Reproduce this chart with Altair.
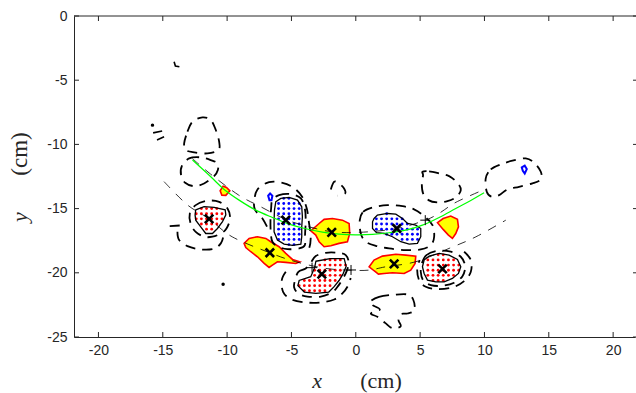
import altair as alt
import numpy as np
import pandas as pd

# ---------------- plot frame ----------------
X_DOMAIN = [-21.9, 21.7]
Y_DOMAIN = [-25, 0]
W, H = 561, 321
x_ticks = [-20, -15, -10, -5, 0, 5, 10, 15, 20]
y_ticks = [0, -5, -10, -15, -20, -25]

# ---------------- yellow regions (red outline) ----------------
yellow_1 = [(-8.68, -17.71), (-8.29, -17.32), (-7.64, -17.19), (-6.99, -17.32), (-6.61, -17.58),
            (-5.96, -17.97), (-5.44, -18.49), (-4.92, -18.96), (-4.35, -19.14), (-4.66, -19.27),
            (-5.44, -19.19), (-6.09, -19.14), (-6.48, -19.40), (-6.74, -19.58), (-7.12, -19.27),
            (-7.64, -18.75), (-8.16, -18.36), (-8.55, -18.03)]
yellow_2 = [(-3.50, -16.73), (-2.85, -16.16), (-2.46, -15.84), (-1.81, -15.77), (-1.04, -15.90),
            (-0.52, -16.16), (-0.47, -16.94), (-0.65, -17.58), (-1.30, -17.71), (-1.94, -17.90),
            (-2.46, -17.97), (-2.85, -17.58), (-3.11, -17.06)]
yellow_3 = [(1.04, -19.53), (1.42, -19.01), (2.07, -18.70), (3.11, -18.55), (3.89, -18.62),
            (4.66, -18.70), (4.61, -19.27), (4.27, -19.79), (3.76, -20.05), (2.85, -20.00),
            (2.20, -20.05), (1.76, -20.10), (1.42, -19.84)]
yellow_4 = [(6.35, -16.10), (6.79, -15.77), (7.38, -15.58), (7.90, -15.84), (7.98, -16.42),
            (7.77, -16.94), (7.51, -17.32), (7.20, -17.06), (6.79, -16.62)]
yellow_5 = [(-10.54, -13.61), (-10.31, -13.25), (-10.05, -13.35), (-9.79, -13.61),
            (-10.10, -13.97), (-10.41, -13.95)]

# ---------------- red-dotted regions ----------------
red_a = [(-12.44, -15.10), (-11.79, -14.85), (-11.01, -14.90), (-10.15, -15.10), (-10.10, -15.49),
         (-10.36, -16.01), (-10.75, -16.55), (-11.14, -16.94), (-11.66, -16.94), (-12.05, -16.42),
         (-12.44, -15.90), (-12.49, -15.49)]
red_b = [(-3.1, -19.1), (-2.0, -18.9), (-0.9, -18.9), (-0.75, -19.5), (-1.0, -20.1), (-1.3, -20.6),
         (-1.7, -21.1), (-2.1, -21.5), (-3.1, -21.6), (-4.0, -21.5), (-4.5, -21.0), (-4.4, -20.6),
         (-3.5, -20.3), (-3.2, -19.6)]
red_c = [(5.31, -19.01), (5.70, -18.70), (6.48, -18.49), (7.25, -18.62), (7.90, -18.96),
         (8.16, -19.53), (7.98, -20.05), (7.51, -20.44), (6.87, -20.70), (6.22, -20.70),
         (5.57, -20.57), (5.31, -20.05), (5.18, -19.53)]

# ---------------- blue-dotted regions ----------------
blue_d = [(-6.22, -14.47), (-5.83, -14.21), (-5.18, -14.13), (-4.53, -14.34), (-4.20, -14.86),
          (-4.15, -15.64), (-4.20, -16.42), (-4.20, -17.19), (-4.27, -17.77), (-4.92, -17.87),
          (-5.57, -17.77), (-6.09, -17.45), (-6.35, -16.81), (-6.35, -15.90), (-6.32, -15.12)]
blue_e = [(1.42, -15.77), (1.68, -15.51), (2.46, -15.38), (3.11, -15.43), (3.63, -15.77),
          (4.02, -16.16), (4.66, -16.29), (5.05, -16.55), (5.05, -17.19), (4.79, -17.71),
          (4.15, -17.77), (3.50, -17.58), (2.85, -17.19), (2.20, -16.94), (1.61, -16.88),
          (1.30, -16.55), (1.30, -16.03)]
blue_f = [(-6.81, -14.0), (-6.66, -13.82), (-6.48, -14.0), (-6.55, -14.34), (-6.71, -14.34)]
blue_g = [(12.90, -11.79), (13.13, -11.66), (13.29, -11.92), (13.13, -12.26), (12.98, -12.05)]

# ---------------- dashed contours (closed) ----------------
loop_a = [(-12.90, -15.38), (-12.44, -14.73), (-11.53, -14.39), (-10.62, -14.47), (-9.97, -14.99),
          (-9.77, -15.77), (-10.05, -16.55), (-10.49, -16.94), (-11.14, -17.19), (-11.79, -17.19),
          (-12.44, -16.81), (-12.82, -16.21)]
loop_d = [(-6.48, -14.34), (-5.96, -13.95), (-5.05, -13.87), (-4.27, -14.21), (-3.96, -14.99),
          (-3.89, -15.90), (-3.94, -16.94), (-3.96, -17.84), (-4.40, -18.10), (-5.31, -18.16),
          (-6.01, -17.97), (-6.48, -17.58), (-6.61, -16.81), (-6.63, -15.77), (-6.58, -14.99)]
loop_e = [(0.31, -15.90), (0.57, -15.25), (1.30, -14.91), (2.46, -14.73), (3.63, -14.81),
          (4.53, -15.06), (5.31, -15.58), (5.96, -16.29), (6.09, -17.19), (5.83, -17.84),
          (5.05, -18.18), (3.89, -18.23), (2.59, -18.10), (1.55, -17.90), (0.78, -17.58),
          (0.39, -16.94)]
loop_b = [(-4.72, -20.57), (-4.46, -19.92), (-3.89, -19.66), (-3.50, -19.22), (-3.11, -18.70),
          (-2.33, -18.44), (-1.42, -18.44), (-0.78, -18.62), (-0.55, -19.2), (-0.7, -19.85),
          (-1.0, -20.45), (-1.35, -21.0), (-1.81, -21.5), (-2.72, -21.85), (-3.76, -21.85),
          (-4.46, -21.61), (-4.79, -21.14)]
loop_c = [(5.13, -19.27), (5.49, -18.62), (6.35, -18.29), (7.38, -18.36), (8.16, -18.75),
          (8.50, -19.48), (8.29, -20.26), (7.64, -20.78), (6.74, -21.01), (5.83, -20.96),
          (5.23, -20.57), (5.05, -19.92)]
loop_top_1 = [(-13.34, -9.92), (-13.08, -9.01), (-12.69, -8.23), (-11.92, -7.90), (-11.27, -8.10),
              (-10.88, -8.88), (-10.62, -9.79), (-10.67, -10.44), (-11.53, -10.70), (-12.56, -10.62),
              (-13.21, -10.44)]
loop_top_2 = [(-13.52, -11.69), (-12.95, -11.09), (-12.05, -11.01), (-11.27, -11.22), (-10.75, -11.48),
              (-10.72, -12.0), (-11.01, -12.47), (-11.79, -13.04), (-12.56, -13.25), (-13.26, -12.99),
              (-13.58, -12.39)]
loop_bottom = [(1.09, -22.26), (1.81, -21.87), (2.98, -21.71), (4.02, -21.69), (4.46, -22.08),
               (4.56, -22.91), (4.02, -23.17), (3.50, -23.22), (3.32, -23.69), (3.50, -24.16),
               (2.85, -24.31), (2.28, -23.90), (1.68, -23.43), (1.17, -23.17), (1.87, -22.86),
               (1.30, -22.52)]
loop_right_1 = [(5.18, -12.13), (5.70, -12.10), (6.48, -12.26), (7.25, -12.47), (7.90, -12.99),
                (8.16, -13.56), (7.77, -14.13), (7.12, -14.42), (6.35, -14.52), (5.65, -14.34),
                (5.23, -13.82), (5.13, -13.04), (5.23, -12.39)]
loop_right_2 = [(10.10, -12.65), (10.49, -11.95), (11.27, -11.56), (12.18, -11.27), (13.21, -11.09),
                (13.86, -11.43), (14.38, -12.13), (14.38, -12.73), (13.73, -13.04), (12.69, -13.30),
                (11.79, -13.51), (11.14, -13.95), (10.57, -14.08), (10.18, -13.69)]

# ---------------- dashed contours (open pieces) ----------------
arc_a_1 = [(-14.46, -16.36), (-13.60, -16.31)]
arc_a_2 = [(-13.86, -16.81), (-13.73, -17.45), (-13.08, -17.92), (-12.05, -18.18), (-11.01, -18.13),
           (-10.49, -17.71), (-10.3, -17.2)]
arc_d = [(-6.9, -16.4), (-7.31, -15.69), (-7.82, -15.12), (-7.90, -14.47), (-7.64, -13.51),
         (-6.74, -12.94), (-5.70, -12.99), (-4.87, -13.35), (-4.20, -14.03), (-3.81, -14.99),
         (-3.63, -16.16), (-3.50, -17.19), (-3.63, -18.10), (-4.0, -18.4)]
arc_b = [(-5.44, -19.92), (-5.75, -20.57), (-5.65, -21.48), (-5.05, -22.05), (-3.89, -22.31),
         (-2.72, -22.31), (-1.68, -22.08), (-1.04, -21.61), (-0.6, -21.0), (-0.4, -20.4)]
arc_c = [(8.42, -18.36), (8.94, -19.01), (8.94, -19.92), (8.42, -20.65), (7.51, -21.14),
         (6.35, -21.27), (5.44, -21.09), (4.92, -20.57), (4.77, -19.66), (4.97, -19.01)]
arc_mid = [(-1.94, -13.51), (-1.68, -12.91), (-1.30, -13.04), (-0.91, -13.43), (-0.83, -13.82),
           (-1.42, -14.0)]

# short solid fragments
frag_1 = [(-15.75, -9.1), (-15.05, -8.95)]
frag_2 = [(-15.45, -9.65), (-14.9, -9.4)]
frag_3 = [(-14.12, -3.56), (-14.02, -3.89), (-13.71, -3.95)]
dot_x = [-10.31, -15.8]
dot_y = [-20.9, -8.5]

# ---------------- fitted curves ----------------
green_x = [-12.69, -11.27, -10.23, -9.07, -7.77, -6.48, -5.18, -3.89, -2.59, -1.30, 0.00,
           1.30, 2.59, 3.89, 5.18, 6.48, 7.77, 9.07, 9.97]
green_y = [-11.22, -12.52, -13.51, -14.34, -15.12, -15.69, -16.21, -16.57, -16.83, -16.99, -17.04,
           -17.01, -16.88, -16.68, -16.29, -15.69, -14.99, -14.29, -13.77]
upper_x = [-12.7, -11.3, -9.1, -7.4, -5.44, -3.7, -1.87, 0.3, 3.19, 5.4, 6.5, 7.8, 9.9]
upper_y = [-11.1, -12.3, -13.95, -14.85, -15.85, -16.4, -16.8, -16.85, -16.55, -15.9, -15.35, -14.5, -13.55]
lower_x = [-14.9, -13.1, -11.4, -9.6, -6.68, -4.66, -2.33, -0.37, 1.04, 2.33, 4.66, 7.25, 9.33, 11.66]
lower_y = [-12.9, -14.7, -15.8, -17.2, -18.44, -19.14, -19.66, -19.8, -19.79, -19.53, -19.14, -18.1, -17.2, -15.9]

# ---------------- markers ----------------
peak_x = [-11.4, -5.44, -6.68, -2.64, -1.87, 3.19, 2.98, 6.74]
peak_y = [-15.8, -15.9, -18.44, -20.1, -16.85, -16.55, -19.3, -19.7]
plus_x = [-0.37, 5.4, -3.4]
plus_y = [-19.78, -15.9, -19.6]


def shapes_frame(named):
    rows = []
    for name, pts in named.items():
        for i, (x, y) in enumerate(pts):
            rows.append({"name": name, "i": i, "x": x, "y": y})
    return pd.DataFrame(rows)


def inside(px, py, poly):
    xs = np.array([p[0] for p in poly])
    ys = np.array([p[1] for p in poly])
    res = np.zeros(px.shape, dtype=bool)
    j = len(poly) - 1
    for i in range(len(poly)):
        cross = (ys[i] > py) != (ys[j] > py)
        xint = (xs[j] - xs[i]) * (py - ys[i]) / (ys[j] - ys[i] + 1e-12) + xs[i]
        res ^= cross & (px < xint)
        j = i
    return res


# dotted hatch fill for the red / blue regions
step = 0.4
gx, gy = np.meshgrid(np.arange(-22, 22, step), np.arange(-25, 0, step))
gx, gy = gx.ravel(), gy.ravel()
dot_rows = []
for poly, col in [(red_a, "red"), (red_b, "red"), (red_c, "red"), (blue_d, "blue"), (blue_e, "blue")]:
    m = inside(gx, gy, poly)
    for a, b in zip(gx[m], gy[m]):
        dot_rows.append({"x": a, "y": b, "c": col})
dots = pd.DataFrame(dot_rows)

INK = "#262626"
xs = alt.Scale(domain=X_DOMAIN, nice=False, zero=False)
ys = alt.Scale(domain=Y_DOMAIN, nice=False, zero=False)
AXX = alt.Axis(values=x_ticks, ticks=False, grid=False, domain=True, domainColor=INK,
               domainWidth=1, labelFont="Liberation Sans", labelFontSize=14,
               labelColor=INK, labelPadding=6, labelExpr="'' + datum.value")
AXY = alt.Axis(values=y_ticks, ticks=False, grid=False, domain=True, domainColor=INK,
               domainWidth=1, labelFont="Liberation Sans", labelFontSize=14,
               labelColor=INK, labelPadding=7, labelExpr="'' + datum.value")
X = alt.X("x:Q", scale=xs, axis=AXX, title=None)
Y = alt.Y("y:Q", scale=ys, axis=AXY, title=None)
XV = alt.X("v:Q", scale=xs, axis=AXX, title=None)
YV = alt.Y("v:Q", scale=ys, axis=AXY, title=None)


def lines(df, **mark):
    return alt.Chart(df).mark_line(**mark).encode(
        x=X, y=Y, detail="name:N", order=alt.Order("i:Q"))


yellow = lines(shapes_frame({"y1": yellow_1, "y2": yellow_2, "y3": yellow_3, "y4": yellow_4,
                             "y5": yellow_5}),
               interpolate="linear-closed", fill="#ffff00", stroke="#ff0000", strokeWidth=1.6)

dot_layer = alt.Chart(dots).mark_circle(size=8, opacity=1).encode(
    x=X, y=Y,
    color=alt.Color("c:N", scale=alt.Scale(domain=["red", "blue"], range=["#ff0000", "#0000ff"]),
                    legend=None))

outline = lines(shapes_frame({"a": red_a, "b": red_b, "c": red_c, "d": blue_d, "e": blue_e}),
                interpolate="linear-closed", stroke="black", strokeWidth=1.3)
small_blue = lines(shapes_frame({"f": blue_f, "g": blue_g}),
                   interpolate="linear-closed", stroke="#0000ff", strokeWidth=2)

closed_loops = lines(shapes_frame({
    "la": loop_a, "ld": loop_d, "le": loop_e, "lb": loop_b, "lc": loop_c,
    "t1": loop_top_1, "t2": loop_top_2, "bt": loop_bottom, "r1": loop_right_1, "r2": loop_right_2}),
    interpolate="cardinal-closed", stroke="black", strokeWidth=1.8, strokeDash=[10, 7])
open_loops = lines(shapes_frame({
    "a1": arc_a_1, "a2": arc_a_2, "d": arc_d, "b": arc_b, "c": arc_c, "m": arc_mid}),
    interpolate="cardinal", stroke="black", strokeWidth=1.8, strokeDash=[10, 7])
fragments = lines(shapes_frame({"f1": frag_1, "f2": frag_2, "f3": frag_3}),
                  stroke="black", strokeWidth=1.6)
small_dots = alt.Chart(pd.DataFrame({"x": dot_x, "y": dot_y})).mark_circle(
    size=12, color="black", opacity=1).encode(x=X, y=Y)

fits = shapes_frame({
    "upper": list(zip(upper_x, upper_y)),
    "lower": list(zip(lower_x, lower_y))})
fit_lines = lines(fits, interpolate="cardinal", stroke="black", strokeWidth=0.8, strokeDash=[9, 8])
green = lines(shapes_frame({"g": list(zip(green_x, green_y))}),
              interpolate="cardinal", stroke="#00ff00", strokeWidth=1.2)

plus = alt.Chart(pd.DataFrame({"x": plus_x, "y": plus_y})).mark_point(
    shape="M-1,0L1,0M0,-1L0,1", size=100, stroke="black", strokeWidth=1, filled=False,
    opacity=1).encode(x=X, y=Y)
peaks = alt.Chart(pd.DataFrame({"x": peak_x, "y": peak_y})).mark_point(
    shape="M-1,-1L1,1M-1,1L1,-1", size=72, stroke="black", strokeWidth=2.6, filled=False,
    opacity=1).encode(x=X, y=Y)

# box: top edge plus inward ticks on every side
one = pd.DataFrame({"a": [0]})
top_edge = alt.Chart(one).mark_rule(color=INK, strokeWidth=1).encode(
    x=alt.value(0), x2=alt.value(W + 1), y=alt.value(0))
xt = pd.DataFrame({"v": x_ticks})
yt = pd.DataFrame({"v": y_ticks})
tick_style = dict(color=INK, strokeWidth=1)
ticks_bottom = alt.Chart(xt).mark_rule(**tick_style).encode(
    x=XV, y=alt.value(H), y2=alt.value(H - 5))
ticks_top = alt.Chart(xt).mark_rule(**tick_style).encode(
    x=XV, y=alt.value(0), y2=alt.value(5))
ticks_left = alt.Chart(yt).mark_rule(**tick_style).encode(
    y=YV, x=alt.value(0), x2=alt.value(5))
ticks_right = alt.Chart(yt).mark_rule(**tick_style).encode(
    y=YV, x=alt.value(W - 2), x2=alt.value(W + 1))

# axis titles: italic variable name, upright unit
serif = "Liberation Serif"
x_name = alt.Chart(pd.DataFrame({"t": ["x"]})).mark_text(
    font=serif, fontSize=22, fontStyle="italic", color=INK, align="center", baseline="alphabetic"
).encode(x=alt.value(243), y=alt.value(372), text="t:N")
x_unit = alt.Chart(pd.DataFrame({"t": ["(cm)"]})).mark_text(
    font=serif, fontSize=22, color=INK, align="center", baseline="alphabetic"
).encode(x=alt.value(307), y=alt.value(372), text="t:N")
y_name = alt.Chart(pd.DataFrame({"t": ["y"]})).mark_text(
    font=serif, fontSize=22, fontStyle="italic", color=INK, align="center", baseline="middle",
    angle=270).encode(x=alt.value(-54), y=alt.value(201), text="t:N")
y_unit = alt.Chart(pd.DataFrame({"t": ["(cm)"]})).mark_text(
    font=serif, fontSize=23, color=INK, align="center", baseline="middle", angle=270
).encode(x=alt.value(-54), y=alt.value(138), text="t:N")

chart = alt.layer(
    yellow, dot_layer, outline, small_blue, closed_loops, open_loops, fragments, small_dots,
    fit_lines, green, plus, peaks,
    top_edge, ticks_bottom, ticks_top, ticks_left, ticks_right,
    x_name, x_unit, y_name, y_unit,
).properties(
    width=W, height=H,
    padding={"left": 74, "top": 16, "right": 1, "bottom": 56},
    autosize=alt.AutoSizeParams(type="none"),
    background="white",
).configure_view(stroke=None)

chart.save("out.html", embed_options={"renderer": "svg", "actions": False})
